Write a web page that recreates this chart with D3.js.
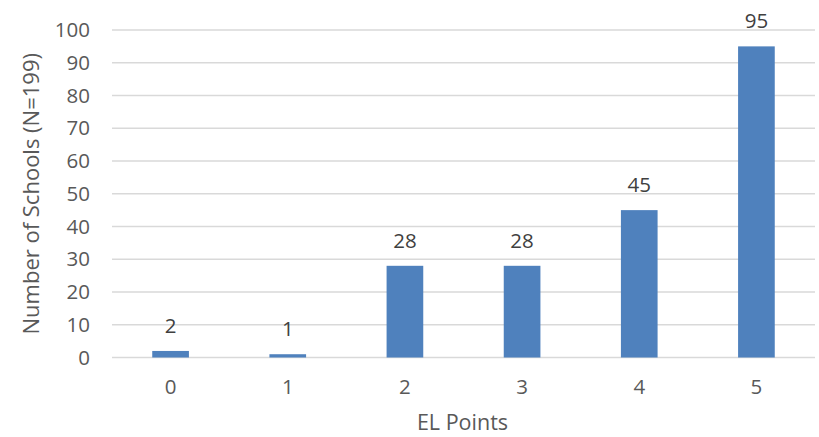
<!DOCTYPE html>
<html><head><meta charset="utf-8">
<script src="https://cdn.jsdelivr.net/npm/d3@7"></script>
<style>body{margin:0;background:#fff}svg{display:block}</style>
</head><body>
<svg id="chart" width="819" height="437"></svg>
<script>
const categories = ["0","1","2","3","4","5"];
const values = [2,1,28,28,45,95];
const yTicks = [0,10,20,30,40,50,60,70,80,90,100];
const xTitle = "EL Points";
const yTitle = "Number of Schools (N=199)";

const W = 819, H = 437;
const m = {left:112, right:4, top:30, bottom:80};
const svg = d3.select("#chart");
const font = "'Open Sans', sans-serif";
const txt = "#595959";

const x = d3.scaleBand().domain(categories).range([m.left, W - m.right]).paddingInner(0.687).paddingOuter(0.3435);
const y = d3.scaleLinear().domain([0,100]).range([H - m.bottom + 0.5, m.top]);

// gridlines
svg.append("g").selectAll("line").data(yTicks).join("line")
  .attr("x1", m.left).attr("x2", W - m.right)
  .attr("y1", d => y(d)).attr("y2", d => y(d))
  .attr("stroke", "#d9d9d9").attr("stroke-width", 1.3);

// y axis labels
const yAxis = d3.axisLeft(y).tickValues(yTicks).tickSize(0).tickPadding(22);
const gy = svg.append("g").attr("transform", `translate(${m.left},0)`).call(yAxis);
gy.select(".domain").remove();
gy.selectAll("text").attr("font-family", font).attr("font-size", 20.5).attr("fill", txt);

// x axis labels
const xAxis = d3.axisBottom(x).tickSize(0).tickPadding(22);
const gx = svg.append("g").attr("transform", `translate(0,${y(0)})`).call(xAxis);
gx.select(".domain").remove();
gx.selectAll("text").attr("font-family", font).attr("font-size", 20.5).attr("fill", txt);

// bars
svg.append("g").selectAll("rect").data(values).join("rect")
  .attr("x", (d,i) => x(categories[i]))
  .attr("width", x.bandwidth())
  .attr("y", d => y(d))
  .attr("height", d => y(0) - y(d))
  .attr("fill", "#4f81bd");

// data labels
svg.append("g").selectAll("text").data(values).join("text")
  .attr("x", (d,i) => x(categories[i]) + x.bandwidth()/2)
  .attr("y", d => y(d) - 18)
  .attr("text-anchor", "middle")
  .attr("font-family", font).attr("font-size", 20.5).attr("fill", "#404040")
  .text(d => d);

// axis titles
svg.append("text").attr("x", (m.left + W - m.right)/2 - 1).attr("y", 430)
  .attr("text-anchor", "middle").attr("font-family", font).attr("font-size", 21.5).attr("fill", txt)
  .text(xTitle);
svg.append("text").attr("transform", `translate(39,${(y(0)+y(100))/2}) rotate(-90)`)
  .attr("text-anchor", "middle").attr("font-family", font).attr("font-size", 22).attr("fill", txt)
  .text(yTitle);
</script>
</body></html>
